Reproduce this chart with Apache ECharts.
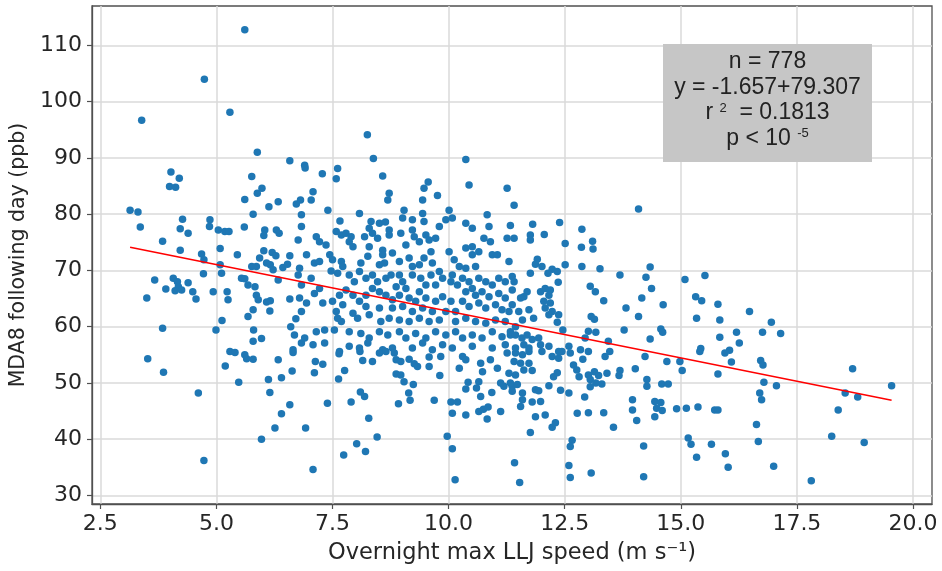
<!DOCTYPE html>
<html>
<head>
<meta charset="utf-8">
<script src="https://cdn.jsdelivr.net/npm/echarts@6/dist/echarts.min.js"></script>
<style>
  html, body { margin: 0; padding: 0; background: #fff; }
  #chart { width: 942px; height: 571px; }
</style>
</head>
<body>
<div id="chart"></div>
<script>
// tick labels
const xTicks = [2.5, 5, 7.5, 10, 12.5, 15, 17.5, 20];
const yTicks = [30, 40, 50, 60, 70, 80, 90, 100, 110];

// regression shown in the stats box
const fitSlope = -1.657;
const fitIntercept = 79.307;

const slowJets = [
  [3.14,80.7],[3.31,80.4],[3.36,77.7],[3.39,96.7],[3.84,75.2],[3.67,68.3],[3.50,65.1],[3.91,66.7],[3.84,59.7],[3.52,54.3],[3.86,51.9],
  [3.99,84.9],[4.12,84.8],[4.20,86.4],[4.02,87.5],[4.27,79.1],[4.22,77.4],[4.39,76.6],[4.22,73.6],[4.07,68.6],[4.16,68.0],[4.18,67.1],
  [4.11,66.4],[4.25,66.5],[4.39,67.8],[4.49,66.2],[4.56,64.9],[4.68,72.9],[4.73,71.9],[4.72,69.4],[4.86,79.0],[4.85,77.8],[4.74,104.0],
  [4.61,48.2],[4.73,36.2],[5.08,73.9],[5.08,71.0],[5.11,69.5],[4.93,66.2],[5.23,66.2],[5.25,64.8],[5.12,61.1],[4.99,59.4],[5.04,77.2],
  [5.18,76.9],[5.27,76.9],[5.45,72.8],[5.54,68.6],[5.61,68.5],[5.60,77.7],[5.61,82.6],[5.79,80.0],[5.76,86.7],[5.88,83.7],[5.98,84.6],
  [5.61,112.8],[5.29,98.1],[5.88,91.0],[5.76,70.7],[5.86,70.7],[5.68,67.4],[5.83,67.1],[5.86,65.6],[5.90,64.8],[5.79,63.0],[5.68,61.8],
  [5.80,59.4],[5.97,57.9],[5.79,57.4],[5.19,53.0],[5.29,55.6],[5.40,55.4],[5.48,50.1],[5.61,55.0],[5.65,54.3],[5.79,54.2],[5.97,40.0],
  [5.93,72.2],[6.02,73.5],[6.04,77.2],[6.02,76.2],[6.13,81.3],[6.20,73.2],[6.28,72.6],[6.33,82.2],[6.29,77.2],[6.35,76.6],[6.08,71.3],
  [6.16,71.0],[6.22,70.1],[6.33,68.3],[6.43,70.5],[6.53,71.1],[6.58,72.6],[6.08,64.4],[6.16,64.6],[6.15,62.8],[6.58,64.9],[6.60,60.0],
  [6.71,61.4],[6.68,58.5],[6.65,55.9],[6.83,57.1],[6.79,65.1],[6.83,62.7],[6.76,69.2],[6.83,67.4],[6.76,75.4],[6.72,81.8],[6.81,82.5],
  [6.83,79.9],[6.83,77.8],[6.58,89.5],[6.90,88.7],[6.91,88.2],[6.12,50.6],[6.15,48.3],[6.33,54.1],[6.40,50.9],[6.40,44.5],[6.26,42.0],
  [6.58,46.1],[6.63,52.1],[6.65,55.4],[6.92,42.0]
];

const midJets = [
  [7.28,87.2],[7.61,88.1],[7.58,86.3],[8.25,94.1],[8.38,89.9],[8.58,86.8],[9.56,85.7],[10.37,89.7],[10.44,85.2],
  [9.47,84.6],[11.26,84.6],[7.08,84.0],[7.04,82.5],[8.72,83.7],[8.69,82.5],[9.44,82.5],[9.76,83.3],[7.40,80.7],[8.08,80.1],[9.04,80.7],
  [9.44,80.1],[10.01,80.7],[7.66,78.8],[8.33,78.7],[8.51,78.4],[8.64,78.6],[8.29,77.5],[9.01,79.3],[9.22,79.0],[9.47,78.7],[9.94,79.0],
  [10.08,79.3],[10.37,78.4],[10.83,79.9],[10.87,77.8],[10.51,77.5],[9.80,77.8],[7.58,76.9],[7.69,76.3],[7.79,76.6],[7.90,76.0],[7.86,75.1],
  [7.94,74.2],[8.19,76.0],[8.36,76.6],[8.72,77.2],[8.72,76.3],[8.47,75.7],[8.97,76.6],[9.22,77.2],[9.26,76.0],[9.51,76.3],[9.58,75.4],
  [9.72,75.7],[9.37,75.1],[9.08,74.5],[7.15,76.0],[7.22,75.1],[7.36,74.5],[6.94,72.8],[7.11,71.3],[7.22,71.6],[7.44,72.8],[7.47,69.9],
  [7.50,71.9],[7.69,71.6],[7.72,70.7],[8.11,71.3],[8.26,72.5],[8.29,74.2],[8.58,73.6],[8.58,72.8],[8.79,73.1],[8.51,71.0],[8.62,71.3],
  [8.94,71.6],[9.15,72.2],[9.22,70.7],[9.37,71.0],[9.47,72.2],[9.65,71.3],[9.62,73.3],[10.01,73.3],[10.12,71.9],[10.23,70.7],[10.37,74.0],
  [10.51,74.2],[10.65,73.3],[10.51,72.8],[10.76,75.7],[10.90,75.1],[10.94,72.8],[11.05,72.8],[11.26,75.7],[11.30,71.6],[10.37,70.4],[10.58,70.7],
  [6.79,70.4],[7.04,68.6],[7.22,66.8],[7.11,65.9],[6.94,64.2],[7.29,64.2],
  [7.61,69.5],[7.86,69.2],[7.97,68.0],[8.08,69.8],[8.22,68.6],[8.36,69.2],[8.47,68.0],[8.65,68.6],[8.76,69.2],[8.94,69.2],[9.01,68.0],
  [8.87,67.1],[9.08,66.8],[9.22,69.2],[9.40,68.6],[9.51,67.4],[9.37,66.2],[9.62,69.2],[9.80,69.8],[9.87,68.6],[9.72,67.4],[10.08,69.2],
  [10.05,68.0],[10.19,67.4],[10.30,68.6],[10.44,68.0],[10.51,66.8],[10.65,68.6],[10.80,68.0],[10.94,67.4],[11.08,68.6],[11.22,68.0],[11.37,68.9],
  [10.37,66.2],[10.58,65.6],[10.72,66.2],[10.87,65.3],[11.08,65.9],[11.22,65.1],[11.37,66.5],[10.30,64.5],[10.44,63.6],[10.65,64.2],[10.80,63.3],
  [11.01,63.9],[11.15,63.0],[11.30,62.7],[10.15,62.7],[10.05,64.5],[9.87,65.3],[9.72,64.5],[9.51,65.1],[9.29,64.5],[9.15,65.1],[8.94,65.6],
  [8.79,64.8],[8.65,65.6],[8.51,66.2],[8.36,66.8],[8.22,65.6],[8.08,64.5],[7.94,65.6],[7.79,66.5],[7.65,65.6],[7.50,64.5],[7.72,63.9],
  [8.22,63.6],[8.51,63.3],[8.79,63.3],[9.01,63.6],[9.22,62.7],[9.44,63.3],[9.65,62.7],[9.94,62.7],
  [7.58,62.7],[7.61,61.5],[7.69,60.9],[7.94,62.4],[8.04,61.5],[8.29,62.1],[8.54,60.9],[8.72,61.5],[8.94,61.2],[9.15,60.9],[9.37,61.5],
  [9.58,60.9],[9.80,61.2],[10.15,60.9],[10.37,61.5],[10.58,60.9],[10.80,60.6],[11.01,61.2],[11.22,60.9],
  [6.90,58.0],[7.15,59.1],[7.33,59.4],[7.54,59.4],[7.86,59.1],[8.11,58.8],[8.29,58.0],[8.51,59.1],[8.69,58.5],[8.94,59.1],[9.08,58.0],
  [9.29,58.8],[9.51,58.0],[9.72,59.1],[9.94,58.5],[10.15,59.1],[10.30,58.0],[10.51,58.5],[10.72,58.0],[10.94,59.1],[11.15,58.2],[11.33,58.5],
  [7.08,56.8],[7.33,57.1],[7.65,55.6],[7.86,56.5],[8.08,56.2],[8.26,57.1],[8.58,55.9],[8.79,56.2],[9.22,56.2],[9.44,57.1],[9.65,55.9],
  [9.87,56.8],[10.08,56.2],[10.51,56.5],[10.94,56.2],[11.22,56.8],
  [7.13,53.8],[7.11,51.8],[7.29,53.3],[7.08,34.6],[7.39,46.4],[7.64,55.2],[7.76,52.2],[7.63,50.7],[7.74,37.2],[7.90,46.6],[8.02,39.2],
  [8.10,48.4],[8.19,47.6],[8.21,37.8],[8.28,43.7],[8.46,40.4],[8.09,55.6],[8.15,54.0],[8.36,53.8],[8.51,55.3],[8.65,55.6],[8.83,55.3],
  [8.87,54.1],[8.97,53.8],[8.87,51.6],[8.97,51.4],[9.04,50.2],[9.24,49.7],[9.14,48.2],[9.17,46.9],[8.92,46.3],[9.15,54.2],[9.33,52.9],
  [9.26,53.4],[9.58,54.6],[9.58,52.9],[9.83,54.7],[9.81,51.3],[9.69,46.9],[10.05,46.6],[10.08,44.6],[9.97,40.5],[10.08,38.3],[10.14,32.8],
  [10.37,44.3],[10.19,46.6],[10.37,48.9],[10.42,50.1],[10.23,52.6],[10.30,54.7],[10.37,54.1],[10.65,50.2],[10.60,49.1],[10.69,47.6],[10.65,44.9],
  [10.75,45.3],[10.85,45.7],[10.83,43.6],[10.93,48.3],[11.12,44.9],[10.69,53.5],[10.73,52.0],[10.90,54.1],[11.05,52.6],[11.12,50.0],[11.19,49.4],
  [11.30,51.7],[11.37,49.4],[11.42,35.8],[11.26,55.3]
];

const fastJets = [
  [11.53,32.3],[11.76,41.2],[11.87,44.0],[12.08,44.3],[12.23,42.1],[12.30,42.9],[11.55,45.8],[11.59,47.0],[11.80,46.6],[11.98,46.7],[11.87,48.8],
  [11.94,48.6],[11.37,48.5],[11.59,48.2],[11.33,50.0],[11.48,49.7],[12.16,49.5],[12.41,48.7],[12.59,48.2],[12.26,51.1],[12.34,51.8],[12.23,54.7],
  [12.37,54.4],[12.44,55.6],[12.62,55.3],[12.69,53.2],[12.76,52.3],[12.81,51.1],[13.01,51.4],[13.05,50.6],[13.14,52.0],[13.23,51.3],[13.17,50.0],
  [13.30,49.8],[13.41,51.7],[13.37,54.7],[13.47,55.6],[13.01,55.6],[12.89,54.2],[13.05,49.3],[12.93,47.5],[12.77,44.6],[13.01,44.7],[13.34,44.7],
  [13.55,42.1],[12.66,39.8],[12.62,38.7],[12.59,35.3],[12.62,33.2],[13.07,34.0],[13.69,52.2],[13.67,51.3],[14.02,52.5],[14.23,54.7],[14.70,53.8],
  [14.98,53.8],[15.03,52.2],[15.41,55.6],[14.27,50.6],[14.27,49.4],[14.59,49.8],[14.73,49.8],[13.96,47.0],[13.96,45.2],[14.05,43.3],[14.44,46.7],
  [14.57,46.5],[14.48,45.5],[14.60,45.1],[14.44,44.0],[14.91,45.4],[15.12,45.5],[15.37,45.7],[15.73,45.2],[14.20,38.8],[14.20,33.3],[15.16,40.2],
  [15.22,39.1],[15.34,36.8],[15.66,39.1],[11.44,55.3],[11.59,55.0],[11.73,55.6],[11.41,53.8],[11.55,53.5],[11.73,53.5],[11.62,52.3],[11.80,52.2],
  [11.44,51.4],
  [11.41,81.6],[14.09,80.9],[11.33,78.0],[11.81,78.2],[12.39,78.5],[11.41,75.7],[11.76,76.3],[11.76,75.4],[12.06,76.4],[12.87,77.3],[12.51,74.8],
  [12.86,74.1],[13.10,75.2],[13.11,73.8],[11.91,72.0],[11.87,71.1],[12.01,70.7],[12.23,70.2],[12.34,69.8],[12.14,69.5],[11.76,69.5],[12.51,71.0],
  [12.87,70.7],[13.26,70.3],[13.69,69.2],[14.34,70.6],[14.25,68.8],[14.37,66.8],[15.09,68.4],[15.52,69.1],[15.32,65.3],[15.45,64.6],[12.36,67.9],
  [13.05,67.2],[13.16,66.2],[13.34,64.6],[14.16,65.1],[14.62,63.9],[13.82,63.3],[14.09,61.8],[13.07,61.8],[13.14,61.3],[12.37,62.1],[12.34,60.8],
  [12.46,59.4],[13.78,59.4],[14.57,59.6],[14.61,59.0],[14.34,57.8],[15.34,61.5],[15.43,56.1],[13.01,59.2],[13.17,59.0],[12.94,58.0],[13.44,57.4],
  [12.59,56.5],[12.37,55.6],[12.84,55.9],
  [11.41,68.0],[11.69,66.2],[11.62,65.3],[11.55,65.1],[11.98,66.2],[12.08,66.8],[12.19,66.5],[12.16,65.6],[12.05,64.5],[12.19,64.2],[12.08,63.3],
  [12.23,62.7],[12.16,62.1],[11.37,63.9],[11.51,62.7],[11.73,63.0],[11.83,61.5],[11.59,61.2],[11.44,60.0],[11.33,59.1],[11.44,58.5],[11.58,58.0],
  [11.69,58.5],[11.80,57.7],[11.94,58.0],[11.62,56.8],[11.44,56.2],[11.73,56.2],[11.98,56.8],[12.16,56.5],[12.01,55.6]
];

const fastestJets = [
  [16.48,62.7],[16.95,60.8],[16.76,59.0],[17.15,58.8],[16.20,59.0],[16.26,57.1],[15.80,64.0],[15.84,61.2],[15.84,58.1],[16.05,55.8],[15.95,55.3],
  [16.09,53.7],[15.80,51.6],[16.72,54.0],[16.77,53.2],[16.79,50.1],[17.06,49.5],[16.70,48.2],[16.74,47.0],[16.63,42.6],[16.67,39.6],[15.80,45.2],
  [15.96,37.4],[16.02,35.0],[17.00,35.2],[17.81,32.6],[18.70,52.5],[19.54,49.5],[18.54,48.2],[18.81,47.5],[18.39,45.2],[18.25,40.5],[18.95,39.4]
];

const statLines = [
  'n = 778',
  'y = -1.657+79.307',
  'r {sup|2}  = 0.1813',
  'p < 10 {sup|-5}'
];

const points = slowJets.concat(midJets, fastJets, fastestJets);
const xs = points.map(p => p[0]);
const fitStart = Math.min(...xs);
const fitEnd = Math.max(...xs);
const fitLine = [fitStart, fitEnd].map(x => [x, fitIntercept + fitSlope * x]);

const chart = echarts.init(document.getElementById('chart'));

const tickFont = { fontFamily: 'DejaVu Sans', fontSize: 22, color: '#262626' };
const boxFont = '23px "Liberation Sans"';
const boxLineY = [62, 87.5, 113, 138.5];

chart.setOption({
  animation: false,
  grid: {
    left: 92, right: 10, top: 6, bottom: 67,
    show: true, borderColor: '#505050', borderWidth: 1.3
  },
  xAxis: {
    type: 'value',
    min: 2.32,
    max: 20.41,
    axisLine: { show: true, lineStyle: { color: '#505050', width: 1.3 } },
    axisTick: { show: true, length: 5, customValues: xTicks, lineStyle: { color: '#505050', width: 1.2 } },
    axisLabel: Object.assign({ customValues: xTicks, margin: 9, formatter: v => v.toFixed(1) }, tickFont),
    splitLine: { show: true, lineStyle: { color: '#dadada', width: 1.5 } },
    name: 'Overnight max LLJ speed (m s\u207B\u00B9)',
    nameLocation: 'middle',
    nameGap: 38,
    nameTextStyle: { fontFamily: 'DejaVu Sans', fontSize: 22.5, color: '#262626' }
  },
  yAxis: {
    type: 'value',
    min: 28.47,
    max: 117,
    axisLine: { show: true, lineStyle: { color: '#505050', width: 1.3 } },
    axisTick: { show: true, length: 5, customValues: yTicks, lineStyle: { color: '#505050', width: 1.2 } },
    axisLabel: Object.assign({ customValues: yTicks, margin: 10 }, tickFont),
    splitLine: { show: true, lineStyle: { color: '#dadada', width: 1.5 } },
    name: 'MDA8 following day (ppb)',
    nameLocation: 'middle',
    nameGap: 59,
    nameTextStyle: { fontFamily: 'DejaVu Sans', fontSize: 20.5, color: '#262626' }
  },
  series: [
    {
      type: 'scatter',
      data: points,
      symbolSize: 7.5,
      itemStyle: { color: '#1f77b4', opacity: 1 },
      z: 2
    },
    {
      type: 'line',
      data: fitLine,
      showSymbol: false,
      lineStyle: { color: '#ff0000', width: 1.6 },
      z: 3
    }
  ],
  graphic: [
    {
      type: 'rect',
      shape: { x: 663, y: 44, width: 209, height: 118 },
      style: { fill: '#c6c6c6' },
      z: 10
    }
  ].concat(statLines.map((txt, i) => ({
    type: 'text',
    x: 767.5,
    y: boxLineY[i],
    z: 11,
    style: {
      text: txt,
      font: boxFont,
      fill: '#222',
      align: 'center',
      verticalAlign: 'middle',
      rich: {
        sup: { font: '13px "Liberation Sans"', fill: '#222', verticalAlign: 'top', padding: [0, 0, 4, 0] }
      }
    }
  })))
});
</script>
</body>
</html>
